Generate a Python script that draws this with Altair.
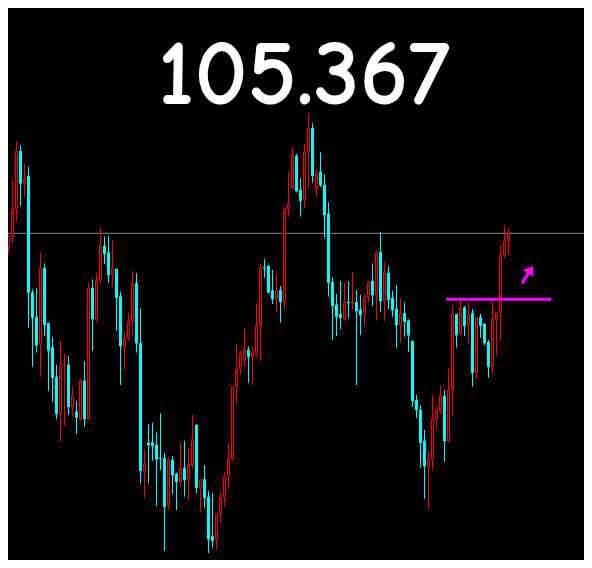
import altair as alt
import pandas as pd

# ---- data (price per bar, bar index 0..127) ----
open_ = [105.140, 105.310, 105.233, 105.333, 105.607, 106.190, 105.867, 105.940, 104.773, 104.527,
         104.257, 105.017, 104.467, 104.227, 103.927, 103.567, 104.040, 104.050, 103.633, 103.583,
         103.510, 103.890, 103.510, 104.817, 104.507, 104.900, 105.240, 105.173, 104.957, 105.010,
         104.733, 104.227, 104.317, 104.483, 104.867, 104.267, 102.983, 103.267, 103.273, 103.250,
         103.117, 103.117, 102.643, 103.100, 102.960, 102.883, 103.017, 102.910, 103.050, 103.450,
         102.823, 102.907, 102.727, 102.333, 102.300, 102.567, 102.727, 102.943, 103.110, 103.827,
         104.007, 104.093, 104.200, 104.133, 104.160, 104.440, 105.027, 105.040, 104.793, 104.710,
         104.800, 104.683, 105.607, 105.823, 106.140, 105.800, 105.707, 106.183, 106.417, 105.807,
         105.977, 105.850, 105.560, 104.877, 104.650, 104.560, 104.507, 104.677, 104.670, 104.677,
         104.600, 104.577, 104.727, 104.890, 104.757, 105.177, 104.693, 104.967, 104.717, 104.607,
         104.450, 104.567, 104.490, 104.290, 103.700, 103.600, 103.290, 103.043, 103.107, 103.510,
         103.590, 103.740, 103.290, 103.800, 104.557, 104.360, 104.623, 104.443, 104.567, 103.973,
         104.527, 104.460, 104.277, 104.033, 104.507, 104.577, 105.150, 105.283]
high = [105.383, 105.717, 105.350, 105.890, 106.290, 106.250, 106.067, 106.033, 104.807, 104.817,
        105.177, 105.067, 104.467, 104.327, 104.050, 104.290, 104.160, 104.140, 103.833, 103.693,
        103.907, 104.090, 104.867, 104.907, 104.967, 105.417, 105.333, 105.340, 105.290, 105.010,
        104.783, 104.367, 104.567, 104.990, 104.967, 104.617, 103.200, 103.460, 103.473, 103.373,
        103.567, 103.167, 103.127, 103.140, 102.973, 103.273, 103.290, 103.210, 103.550, 103.450,
        102.907, 103.050, 102.790, 102.767, 102.567, 102.767, 102.977, 103.273, 103.840, 104.260,
        104.190, 104.417, 104.233, 104.223, 104.667, 105.067, 105.110, 105.050, 105.000, 104.960,
        104.840, 105.627, 105.983, 106.227, 106.160, 105.917, 106.260, 106.567, 106.467, 106.007,
        106.177, 105.957, 105.677, 104.927, 104.760, 104.890, 104.867, 104.890, 104.977, 104.800,
        104.750, 104.767, 104.890, 105.067, 105.190, 105.377, 105.077, 105.040, 104.790, 104.850,
        104.717, 104.677, 104.507, 104.290, 103.750, 103.650, 103.400, 103.190, 103.750, 103.640,
        103.840, 103.800, 104.010, 104.650, 104.557, 104.700, 104.640, 104.677, 104.610, 104.533,
        104.560, 104.467, 104.300, 104.727, 104.577, 105.250, 105.450, 105.410]
low = [104.850, 105.133, 105.173, 105.267, 105.483, 105.640, 105.733, 104.423, 104.033, 104.173,
       103.933, 104.343, 103.790, 103.683, 103.507, 103.280, 103.443, 103.550, 103.533, 103.360,
       103.490, 103.433, 103.500, 104.190, 104.483, 104.873, 105.060, 104.873, 104.833, 104.390,
       103.850, 104.000, 104.300, 104.350, 104.173, 102.867, 102.723, 102.867, 103.093, 102.640,
       103.000, 102.190, 102.610, 102.760, 102.600, 102.843, 102.733, 102.693, 103.017, 102.767,
       102.573, 102.623, 102.170, 102.223, 102.210, 102.473, 102.633, 102.810, 103.093, 103.660,
       103.950, 104.040, 103.873, 103.850, 104.140, 104.090, 104.923, 104.767, 104.660, 104.573,
       104.473, 104.610, 105.533, 105.810, 105.773, 105.533, 105.623, 105.823, 105.873, 105.743,
       105.833, 105.323, 104.733, 104.300, 104.340, 104.410, 104.493, 104.517, 104.600, 103.850,
       104.350, 104.440, 104.683, 104.640, 104.493, 104.583, 104.490, 104.610, 104.533, 104.223,
       104.273, 104.333, 104.183, 103.633, 103.523, 103.023, 102.710, 102.620, 103.000, 103.400,
       103.560, 103.083, 103.273, 103.543, 104.223, 104.350, 104.340, 104.267, 103.833, 103.907,
       104.323, 104.250, 103.923, 103.973, 104.143, 104.283, 105.123, 105.150]
close = [105.383, 105.233, 105.333, 105.610, 106.190, 105.867, 105.907, 104.773, 104.523, 104.250,
         105.017, 104.450, 104.193, 103.923, 103.560, 104.043, 104.050, 103.633, 103.750, 103.527,
         103.890, 103.510, 104.817, 104.510, 104.890, 105.240, 105.160, 104.950, 105.017, 104.723,
         104.240, 104.317, 104.477, 104.860, 104.267, 102.993, 103.067, 103.250, 103.243, 103.110,
         103.110, 102.633, 103.100, 102.950, 102.883, 103.017, 102.900, 103.057, 103.307, 102.823,
         102.907, 102.723, 102.310, 102.293, 102.557, 102.727, 102.933, 103.117, 103.833, 104.010,
         104.157, 104.200, 104.133, 104.167, 104.440, 105.027, 105.020, 104.777, 104.710, 104.800,
         104.683, 105.610, 105.660, 106.150, 105.790, 105.693, 106.177, 106.417, 105.943, 105.967,
         105.850, 105.550, 104.873, 104.640, 104.533, 104.523, 104.677, 104.670, 104.677, 104.590,
         104.550, 104.723, 104.877, 104.750, 105.177, 104.690, 104.983, 104.700, 104.600, 104.450,
         104.567, 104.483, 104.350, 103.690, 103.600, 103.273, 103.040, 103.107, 103.517, 103.600,
         103.740, 103.290, 103.800, 104.557, 104.350, 104.617, 104.440, 104.557, 103.973, 104.523,
         104.443, 104.273, 104.033, 104.507, 104.577, 105.143, 105.293, 105.367]

bid_price = 105.367            # current price (grey line and big label)
level_price = 104.707          # magenta horizontal level
level_from, level_to = 111.4, 137.7
arrow_bar, arrow_price = 131.75, 104.953
title_text = "105.367"

# ---- tables ----
df = pd.DataFrame({"i": list(range(len(open_))), "open": open_, "high": high,
                   "low": low, "close": close})
df["dir"] = ["up" if c >= o else "down" for o, c in zip(df["open"], df["close"])]
df["top"] = df[["open", "close"]].max(axis=1)
df["bottom"] = df[["open", "close"]].min(axis=1)

xs = alt.Scale(domain=[1.875, 145.875], nice=False, zero=False, padding=0)
ys = alt.Scale(domain=[102.10, 107.62], nice=False, zero=False, padding=0)
dirs = ["up", "down"]

X = alt.X("i:Q", scale=xs, axis=None)

wicks = alt.Chart(df).mark_rule(strokeWidth=1, clip=True).encode(
    x=X,
    y=alt.Y("high:Q", scale=ys, axis=None),
    y2="low:Q",
    color=alt.Color("dir:N", scale=alt.Scale(domain=dirs, range=["#ff0000", "#00ffff"]), legend=None),
)

bodies = alt.Chart(df).mark_bar(size=2, strokeWidth=1, clip=True, opacity=1).encode(
    x=X,
    y=alt.Y("top:Q", scale=ys, axis=None),
    y2="bottom:Q",
    stroke=alt.Stroke("dir:N", scale=alt.Scale(domain=dirs, range=["#ff0000", "#00ffff"]), legend=None),
    fill=alt.Fill("dir:N", scale=alt.Scale(domain=dirs, range=["#000000", "#00ffff"]), legend=None),
)

bid = alt.Chart(pd.DataFrame({"p": [bid_price]})).mark_rule(
    color="#8c8c8c", strokeWidth=1
).encode(y=alt.Y("p:Q", scale=ys, axis=None))

level = alt.Chart(pd.DataFrame({"a": [level_from], "b": [level_to], "p": [level_price]})).mark_rule(
    color="#ff00ff", strokeWidth=3
).encode(
    x=alt.X("a:Q", scale=xs, axis=None), x2="b:Q",
    y=alt.Y("p:Q", scale=ys, axis=None),
)

arrow_path = "M0,-1 L0.62,-0.15 L0.16,-0.15 L0.16,1 L-0.16,1 L-0.16,-0.15 L-0.62,-0.15 Z"
arrow = alt.Chart(pd.DataFrame({"i": [arrow_bar], "p": [arrow_price]})).mark_point(
    shape=arrow_path, filled=True, color="#ff00ff", opacity=1, size=420, angle=31, strokeWidth=0
).encode(
    x=alt.X("i:Q", scale=xs, axis=None),
    y=alt.Y("p:Q", scale=ys, axis=None),
)

title = alt.Chart(pd.DataFrame({"t": [title_text]})).mark_text(
    font="Comic Sans MS, Comic Neue, Lato", fontSize=93, fontWeight="bold", color="#ffffff",
    align="center", baseline="alphabetic"
).encode(text="t:N", x=alt.value(296), y=alt.value(96))

chart = alt.layer(bid, wicks, bodies, level, arrow, title).properties(
    width=576, height=552, background="#000000", padding=0, autosize="none"
).configure_view(stroke=None)

chart.save("out.html", embed_options={"renderer": "svg", "actions": False})
